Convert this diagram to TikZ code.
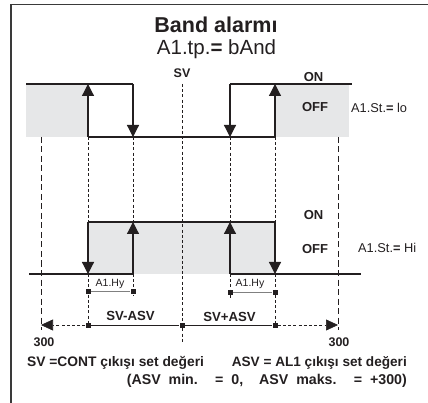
\documentclass[tikz,border=0pt]{standalone}
\usepackage{fontspec}
\setmainfont{Liberation Sans}
\usetikzlibrary{arrows.meta}
\definecolor{ink}{HTML}{231F20}
\definecolor{greyfill}{HTML}{E6E7E8}
\definecolor{framec}{HTML}{3A3A3A}
\begin{document}
\begin{tikzpicture}[x=1pt,y=-1pt,
  chart/.style={draw=ink,line width=1.2pt},
  arr/.style={chart,-{Triangle[length=12pt,width=12pt]}},
  dsh/.style={draw=ink,line width=0.6pt,dash pattern=on 3pt off 2.2pt},
  ldsh/.style={draw=ink,line width=0.7pt,dash pattern=on 6pt off 3.5pt},
  spanarr/.style={dsh,-{Triangle[length=12pt,width=11pt]}},
  sq/.style={fill=ink,inner sep=0pt,minimum size=5pt,rectangle},
  hy/.style={draw=gray,line width=0.8pt},
  lbl/.style={inner sep=0pt,anchor=base,text=ink},
  bl/.style={lbl,font=\bfseries}]
\useasboundingbox (0,0) rectangle (428,403);
% frame
\coordinate (f0) at (11,4.5);
\coordinate (f1) at (428,4.5);
\coordinate (f2) at (11,403);
\draw[framec,line width=1.5pt] (f1) -- (f0) -- (f2);
% shaded areas
\fill[greyfill] (26,84) rectangle (88,137);
\fill[greyfill] (275,84) rectangle (349,137);
\fill[greyfill] (88,222) rectangle (275,274);
% coordinates
\foreach \n/\x in {a/41,b/88,c/133,s/182,d/230,e/275,g/338}{
  \coordinate (\n T) at (\x,84);
  \coordinate (\n B) at (\x,137);
  \coordinate (\n U) at (\x,222);
  \coordinate (\n L) at (\x,274);
}
\coordinate (tl) at (26,84);
\coordinate (tr) at (352,84);
\coordinate (bl0) at (29,274);
\coordinate (br0) at (361,274);
% dashed guides
\draw[dsh] (sT) -- (182,342);
\foreach \n in {b,c,d,e}{\draw[dsh] (\n B) -- (\n U);}
\draw[dsh] (bL) -- (88,325);
\draw[dsh] (cL) -- (133,296);
\draw[dsh] (dL) -- (230,298);
\draw[dsh] (eL) -- (275,325);
\draw[ldsh] (aB) -- (41,330);
\draw[ldsh] (gB) -- (338,330);
% top chart
\draw[chart] (tl) -- (cT);
\draw[chart] (bB) -- (eB);
\draw[chart] (dT) -- (tr);
\draw[arr] (bB) -- (bT);
\draw[arr] (cT) -- (cB);
\draw[arr] (dT) -- (dB);
\draw[arr] (eB) -- (eT);
% bottom chart
\draw[chart] (bl0) -- (cL);
\draw[chart] (bU) -- (eU);
\draw[chart] (dL) -- (br0);
\draw[arr] (bU) -- (bL);
\draw[arr] (cL) -- (cU);
\draw[arr] (dL) -- (dU);
\draw[arr] (eU) -- (eL);
% hysteresis markers
\node[sq] (h1) at (88,291) {};
\node[sq] (h2) at (133,291) {};
\node[sq] (h3) at (230,292.5) {};
\node[sq] (h4) at (275,292.5) {};
\draw[hy] (h1) -- (h2);
\draw[hy] (h3) -- (h4);
% span line
\node[sq] (p1) at (88,325) {};
\node[sq] (p2) at (182,325) {};
\node[sq] (p3) at (275,325) {};
\coordinate (pl) at (41,325);
\coordinate (pr) at (338,325);
\draw[draw=ink,line width=0.9pt] (p1) -- (p2) -- (p3);
\draw[spanarr] (p1) -- (pl);
\draw[spanarr] (p3) -- (pr);
% texts
\node[bl,font=\bfseries\fontsize{21.5}{25}\selectfont] (title) at (216,32.3) {Band alarmı};
\node[lbl,font=\fontsize{20.5}{24}\selectfont] (tp) at (216.5,54.5) {A1.tp.{\bfseries =} bAnd};
\node[bl,font=\bfseries\fontsize{12.5}{14}\selectfont] (sv) at (182,77.5) {SV};
\node[bl,font=\bfseries\fontsize{13}{15}\selectfont] (on1) at (313.5,81.7) {ON};
\node[bl,font=\bfseries\fontsize{13}{15}\selectfont] (off1) at (315,111.7) {OFF};
\node[lbl,anchor=base west,font=\fontsize{12.8}{14}\selectfont] (st1) at (351,113) {A1.St.{\bfseries =} lo};
\node[bl,font=\bfseries\fontsize{13}{15}\selectfont] (on2) at (313.5,219.3) {ON};
\node[bl,font=\bfseries\fontsize{13}{15}\selectfont] (off2) at (315,254) {OFF};
\node[lbl,anchor=base west,font=\fontsize{12.8}{14}\selectfont] (st2) at (358,252.7) {A1.St.{\bfseries =} Hi};
\node[lbl,font=\fontsize{10.5}{12}\selectfont] (hy1) at (110,286.7) {A1.Hy};
\node[lbl,font=\fontsize{10.5}{12}\selectfont] (hy2) at (250,286.7) {A1.Hy};
\node[bl,font=\bfseries\fontsize{13.2}{15}\selectfont] (svm) at (130.5,320) {SV-ASV};
\node[bl,font=\bfseries\fontsize{13.2}{15}\selectfont] (svp) at (229.5,321.5) {SV+ASV};
\node[bl,font=\bfseries\fontsize{12.5}{14}\selectfont] (n1) at (44,346) {300};
\node[bl,font=\bfseries\fontsize{12.5}{14}\selectfont] (n2) at (339,346) {300};
\node[bl,anchor=base west,font=\bfseries\fontsize{13.8}{16}\selectfont] (l1) at (27,366.7) {SV =CONT çıkışı set değeri};
\node[bl,anchor=base east,font=\bfseries\fontsize{13.6}{16}\selectfont] (l2) at (407,366.7) {ASV = AL1 çıkışı set değeri};
\node[bl,anchor=base east,font=\bfseries\fontsize{14.2}{16}\selectfont] (l3) at (407,384) {\makebox[280pt][s]{(ASV min. = 0,\ \ ASV maks. = +300)}};
\end{tikzpicture}
\end{document}
